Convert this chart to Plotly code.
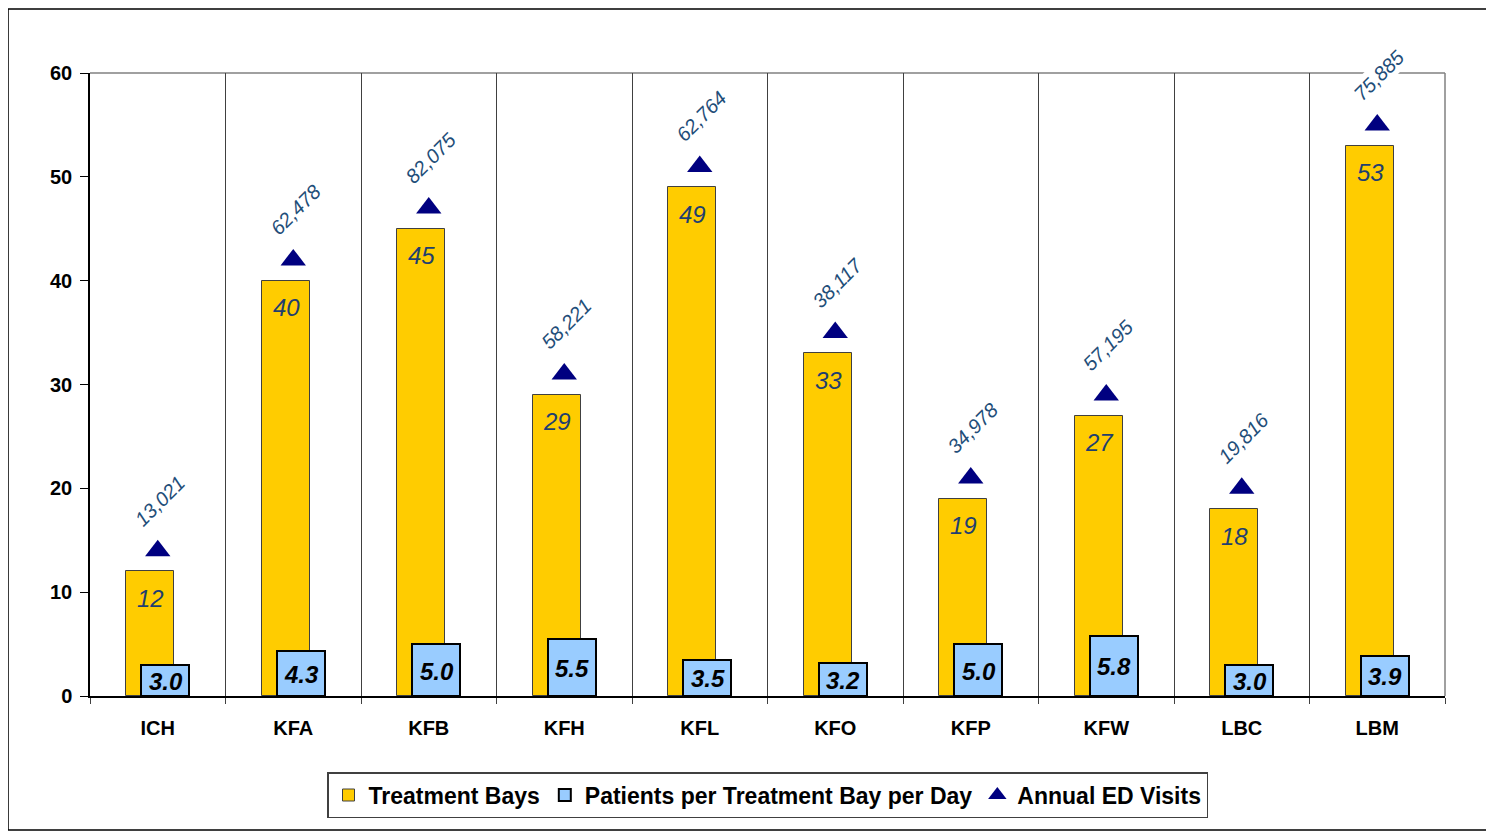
import plotly.graph_objects as go

categories = ["ICH", "KFA", "KFB", "KFH", "KFL", "KFO", "KFP", "KFW", "LBC", "LBM"]
treatment_bays = [12, 40, 45, 29, 49, 33, 19, 27, 18, 53]
patients_per_bay = [3.0, 4.3, 5.0, 5.5, 3.5, 3.2, 5.0, 5.8, 3.0, 3.9]
annual_visits = [13021, 62478, 82075, 58221, 62764, 38117, 34978, 57195, 19816, 75885]
y_ticks = [0, 10, 20, 30, 40, 50, 60]

marker_y = [b + 2 for b in treatment_bays]

fig = go.Figure()
fig.add_trace(go.Bar(
    x=categories, y=treatment_bays, name="Treatment Bays",
    width=0.355, offset=-0.232,
    marker=dict(color="#FFCC00", line=dict(color="#404040", width=1)),
))
fig.add_trace(go.Bar(
    x=categories, y=patients_per_bay, name="Patients per Treatment Bay per Day",
    width=0.355, offset=-0.122,
    marker=dict(color="#99CCFF", line=dict(color="#000000", width=2)),
))
fig.add_trace(go.Scatter(
    x=categories, y=marker_y, name="Annual ED Visits", mode="markers",
    marker=dict(symbol="triangle-up", size=22, color="#000080"),
))

# treatment bay labels inside the top of the yellow bars
for c, b in zip(categories, treatment_bays):
    fig.add_annotation(
        x=c, y=b, text=str(b), showarrow=False, yanchor="middle",
        yshift=-27, xshift=-7,
        font=dict(family="Arial", size=24, color="#1F3F6F", style="italic"),
    )

# patients-per-bay labels centred in the blue bars
for c, p in zip(categories, patients_per_bay):
    fig.add_annotation(
        x=c, y=p / 2, text=f"{p:.1f}", showarrow=False, yanchor="middle",
        xshift=8, yshift=-1,
        font=dict(family="Arial", size=24, color="#000000", style="italic", weight="bold"),
    )

for c, y, v in zip(categories, marker_y, annual_visits):
    fig.add_annotation(
        x=c, y=y, text=f"{v:,}", showarrow=False, textangle=-45,
        yshift=50, xshift=2, bgcolor="white",
        font=dict(family="Arial", size=20, color="#1F4E79", style="italic"),
    )

# plot-area top and right borders (gray)
fig.add_shape(type="line", xref="paper", yref="paper", x0=0, x1=1, y0=1, y1=1,
              line=dict(color="#808080", width=1.5), layer="below")
fig.add_shape(type="line", xref="paper", yref="paper", x0=1, x1=1, y0=0, y1=1,
              line=dict(color="#808080", width=1.5), layer="below")
# outer chart border
fig.add_shape(type="rect", xref="paper", yref="paper",
              x0=-0.0605, x1=1.031, y0=-0.215, y1=1.1027,
              line=dict(color="#000000", width=1.5), layer="below")

fig.update_layout(
    width=1486, height=823,
    margin=dict(l=82, r=49, t=65, b=135),
    plot_bgcolor="white", paper_bgcolor="white",
    barmode="overlay", bargap=0,
    font=dict(family="Arial", color="#000000"),
    showlegend=True,
    legend=dict(orientation="h", x=0.5, xanchor="center", y=-0.159, yanchor="middle",
                bordercolor="#404040", borderwidth=1.5,
                font=dict(family="Arial", size=23, color="#000000", weight="bold"),
                itemwidth=30, tracegroupgap=0),
)
fig.update_xaxes(
    type="category", tickson="boundaries", ticks="outside", ticklen=6,
    tickcolor="#404040", showgrid=True, gridcolor="#404040", gridwidth=1,
    showline=True, linecolor="#000000", linewidth=1.5, ticklabelstandoff=13,
    tickfont=dict(family="Arial", size=20, color="#000000", weight="bold"),
    range=[-0.5, 9.5],
)
fig.update_yaxes(
    range=[0, 60], tickvals=y_ticks, ticks="outside", ticklen=8, tickcolor="#000000",
    showgrid=False, zeroline=False, showline=True, linecolor="#000000", linewidth=1.5,
    ticklabelstandoff=4,
    tickfont=dict(family="Arial", size=20, color="#000000", weight="bold"),
)

fig.write_html("out.html")
